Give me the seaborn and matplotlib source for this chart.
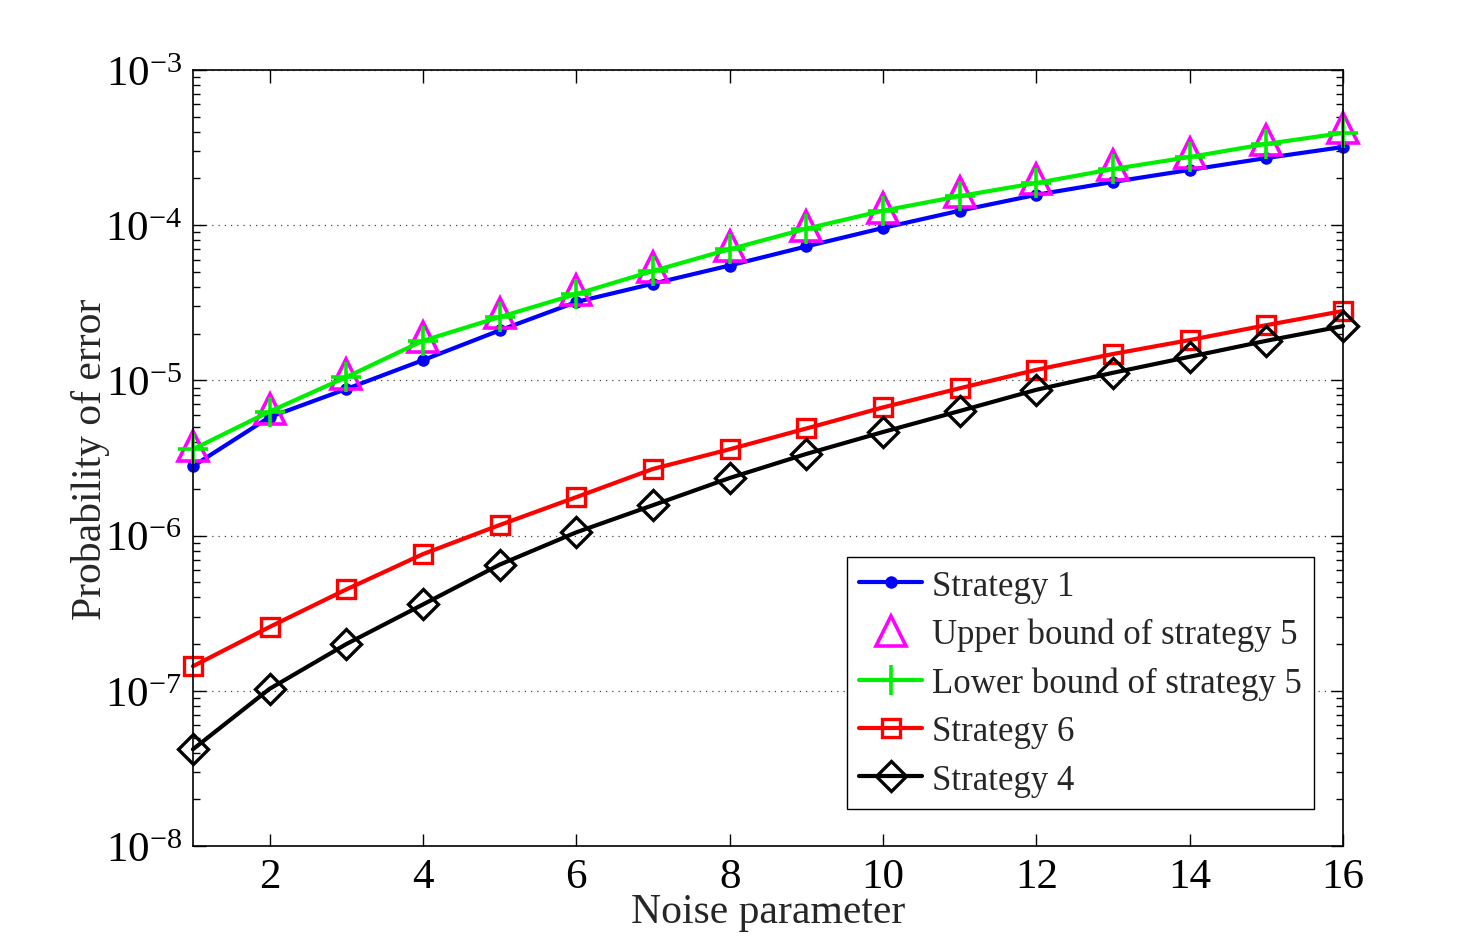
import numpy as np
import pandas as pd
import matplotlib
matplotlib.use('Agg')
import matplotlib.pyplot as plt
import matplotlib.ticker as mticker
import seaborn as sns

# values
noise = list(range(1, 17))
strategy1 = [2.8e-6, 5.8e-6, 8.8e-6, 1.35e-5, 2.1e-5, 3.2e-5, 4.2e-5, 5.5e-5,
             7.3e-5, 9.6e-5, 1.24e-4, 1.57e-4, 1.9e-4, 2.27e-4, 2.71e-4, 3.19e-4]
upper5 = [3.8e-6, 6.5e-6, 1.1e-5, 1.9e-5, 2.7e-5, 3.8e-5, 5.4e-5, 7.3e-5,
          9.9e-5, 1.29e-4, 1.64e-4, 1.99e-4, 2.44e-4, 2.92e-4, 3.54e-4, 4.23e-4]
lower5 = [3.6e-6, 6.3e-6, 1.05e-5, 1.8e-5, 2.56e-5, 3.6e-5, 5.07e-5, 7.0e-5,
          9.5e-5, 1.24e-4, 1.54e-4, 1.87e-4, 2.3e-4, 2.75e-4, 3.34e-4, 3.93e-4]
strategy6 = [1.44e-7, 2.58e-7, 4.5e-7, 7.6e-7, 1.17e-6, 1.77e-6, 2.69e-6, 3.6e-6,
             4.9e-6, 6.7e-6, 8.9e-6, 1.17e-5, 1.48e-5, 1.82e-5, 2.27e-5, 2.8e-5]
strategy4 = [4.2e-8, 1.03e-7, 2.0e-7, 3.6e-7, 6.5e-7, 1.05e-6, 1.57e-6, 2.35e-6,
             3.36e-6, 4.65e-6, 6.35e-6, 8.7e-6, 1.12e-5, 1.42e-5, 1.8e-5, 2.24e-5]

sns.set_style('ticks')
plt.rcParams['font.family'] = ['Liberation Serif', 'DejaVu Serif']
plt.rcParams['mathtext.fontset'] = 'stix'

fig = plt.figure(figsize=(14.84, 9.53), dpi=100)
ax = fig.add_axes([0.130, 0.1112, 0.775, 0.8143])

lw = 3.0
sns.lineplot(x=noise, y=strategy1, ax=ax, color='#0000ff', linewidth=lw, marker='o',
             markersize=9, markeredgewidth=0, label='Strategy 1', clip_on=False)
sns.lineplot(x=noise, y=upper5, ax=ax, color='#ff00ff', linestyle='None', marker='^',
             markersize=22, markerfacecolor='none', markeredgecolor='#ff00ff',
             markeredgewidth=2.6, label='Upper bound of strategy 5', clip_on=False)
sns.lineplot(x=noise, y=lower5, ax=ax, color='#00ee00', linewidth=lw, marker='+',
             markersize=22, markeredgecolor='#00ee00', markeredgewidth=2.6,
             label='Lower bound of strategy 5', clip_on=False)
sns.lineplot(x=noise, y=strategy6, ax=ax, color='#ff0000', linewidth=lw, marker='s',
             markersize=13, markerfacecolor='none', markeredgecolor='#ff0000',
             markeredgewidth=2.4, label='Strategy 6', clip_on=False)
sns.lineplot(x=noise, y=strategy4, ax=ax, color='black', linewidth=lw, marker='D',
             markersize=15, markerfacecolor='none', markeredgecolor='black',
             markeredgewidth=2.4, label='Strategy 4', clip_on=False)

ax.set_yscale('log')
ax.set_ylim(1e-8, 1e-3)
ax.set_xlim(1, 16)
ax.set_xticks([2, 4, 6, 8, 10, 12, 14, 16])
ax.yaxis.set_major_locator(mticker.LogLocator(base=10, numticks=10))
ax.yaxis.set_minor_locator(mticker.LogLocator(base=10, subs=np.arange(2, 10), numticks=10))
ax.yaxis.set_minor_formatter(mticker.NullFormatter())

ax.tick_params(axis='both', which='both', direction='in', top=True, right=True,
               labelsize=31, width=1, colors='black')
ax.tick_params(axis='both', which='major', length=9, pad=8)
ax.tick_params(axis='y', which='minor', length=5)
for s in ax.spines.values():
    s.set_color('black')
    s.set_linewidth(1.2)

ax.grid(False)
ax.yaxis.grid(True, which='major', linestyle=(0, (1, 4)), color='#444444', lw=0.9)

ax.set_xlabel('Noise parameter', fontsize=30, labelpad=-2)
ax.set_ylabel('Probability of error', fontsize=30, labelpad=-4)

leg = ax.legend(loc='lower right', bbox_to_anchor=(0.975, 0.048), fontsize=25,
                frameon=True, fancybox=False, framealpha=1, edgecolor='black',
                borderpad=0.35, labelspacing=0.44, handlelength=1.8,
                handletextpad=0.3, borderaxespad=0)
leg.get_frame().set_linewidth(1.0)

fig.savefig('out.png', dpi=100)
